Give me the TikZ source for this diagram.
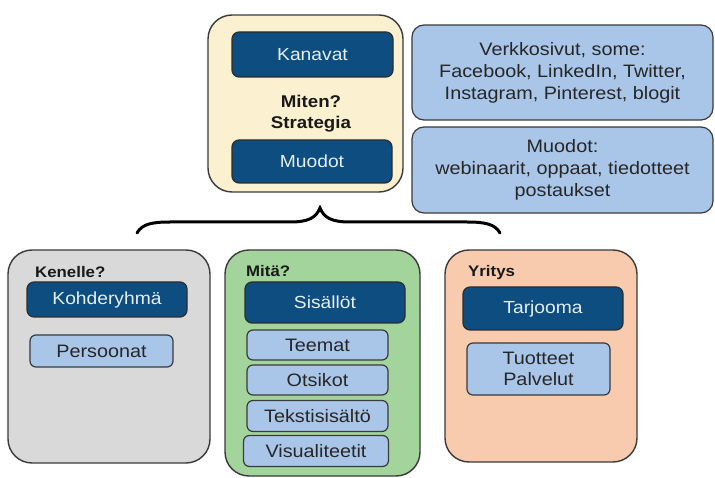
\documentclass[tikz,border=0pt]{standalone}
\usepackage{fontspec}
\setmainfont[FakeStretch=1.1]{Liberation Sans}
\definecolor{cream}{HTML}{FBF0CF}
\definecolor{navy}{HTML}{0E4D80}
\definecolor{paleblue}{HTML}{A9C6E9}
\definecolor{greyfill}{HTML}{D9D9D9}
\definecolor{greenfill}{HTML}{A2D49B}
\definecolor{peach}{HTML}{F9CBAE}
\definecolor{edge}{HTML}{3A3A3A}
\definecolor{navytext}{HTML}{E4EEF8}
\tikzset{
  group/.style={draw=edge, line width=1.4pt, rounded corners=24pt},
  navybox/.style={draw=edge!80!black, line width=1.2pt, fill=navy, text=navytext,
    rounded corners=7pt, font=\fontsize{17.5}{20}\selectfont},
  subbox/.style={draw=edge, line width=1.2pt, fill=paleblue, text=black!85,
    rounded corners=6pt, inner sep=1pt, font=\fontsize{18}{21}\selectfont, align=center},
  infobox/.style={draw=edge, line width=1.2pt, fill=paleblue, text=black!85,
    rounded corners=12pt, font=\fontsize{18}{22}\selectfont, align=center},
  heading/.style={font=\bfseries\fontsize{15.3}{17}\selectfont, text=black!90, anchor=west, inner sep=0pt},
  brace/.style={line width=3pt, line cap=round, black}
}
\begin{document}
\begin{tikzpicture}[x=1pt, y=-1pt]
\useasboundingbox (0,0) rectangle (715,478);

% strategy block at the top
\node[group, fill=cream, minimum width=195pt, minimum height=177pt] (strategy) at (305.5,103.5) {};
\node[navybox, minimum width=161pt, minimum height=45pt] (kanavat) at (312.5,54.5) {Kanavat};
\node[font=\bfseries\fontsize{17}{21}\selectfont, align=center, text=black!90] (miten) at (311,114) {Miten?\\Strategia};
\node[navybox, minimum width=160pt, minimum height=43pt] (muodot) at (312,161.5) {Muodot};

% channel and format descriptions on the right
\node[infobox, minimum width=301pt, minimum height=95pt] (kanavalista) at (562.5,72.5)
  {Verkkosivut, some:\\Facebook, LinkedIn, Twitter,\\Instagram, Pinterest, blogit};
\node[infobox, minimum width=301pt, minimum height=86pt] (muotolista) at (562.5,170)
  {Muodot:\\webinaarit, oppaat, tiedotteet\\postaukset};

% curly brace joining the three lower blocks
\coordinate (braceL) at (137,233);
\coordinate (braceR) at (500,233);
\coordinate (braceTip) at (320,208);
\draw[brace] (braceL) .. controls (142,224) and (152,222) .. (170,222)
  -- (290,222) .. controls (308,222) and (316,218) .. (braceTip)
  .. controls (324,218) and (332,222) .. (350,222)
  -- (467,222) .. controls (485,222) and (495,224) .. (braceR);

% target group block
\node[group, fill=greyfill, minimum width=202pt, minimum height=213pt] (kenelle) at (109,356.5) {};
\node[heading] (kenelleotsikko) at (35,272) {Kenelle?};
\node[navybox, minimum width=160pt, minimum height=35pt] (kohderyhma) at (107,299.5) {Kohderyhmä};
\node[subbox, minimum width=143pt, minimum height=32pt] (persoonat) at (101.5,351) {Persoonat};

% content block
\node[group, fill=greenfill, minimum width=195pt, minimum height=226pt] (mita) at (322.5,363) {};
\node[heading] (mitaotsikko) at (246,271) {Mitä?};
\node[navybox, minimum width=160pt, minimum height=41pt] (sisallot) at (325,302.5) {Sisällöt};
\node[subbox, minimum width=141pt, minimum height=30pt] (teemat) at (317.5,345) {Teemat};
\node[subbox, minimum width=141pt, minimum height=30pt] (otsikot) at (317.5,380) {Otsikot};
\node[subbox, minimum width=141pt, minimum height=31pt] (teksti) at (317.5,416) {Tekstisisältö};
\node[subbox, minimum width=145pt, minimum height=31pt] (visuaali) at (316,451) {Visualiteetit};

% company block
\node[group, fill=peach, minimum width=192pt, minimum height=212pt] (yritys) at (541,356) {};
\node[heading] (yritysotsikko) at (468,273) {Yritys};
\node[navybox, minimum width=160pt, minimum height=43pt] (tarjooma) at (543,308.5) {Tarjooma};
\node[subbox, minimum width=143pt, minimum height=52pt] (tuotteet) at (538.5,369) {Tuotteet\\Palvelut};
\end{tikzpicture}
\end{document}
